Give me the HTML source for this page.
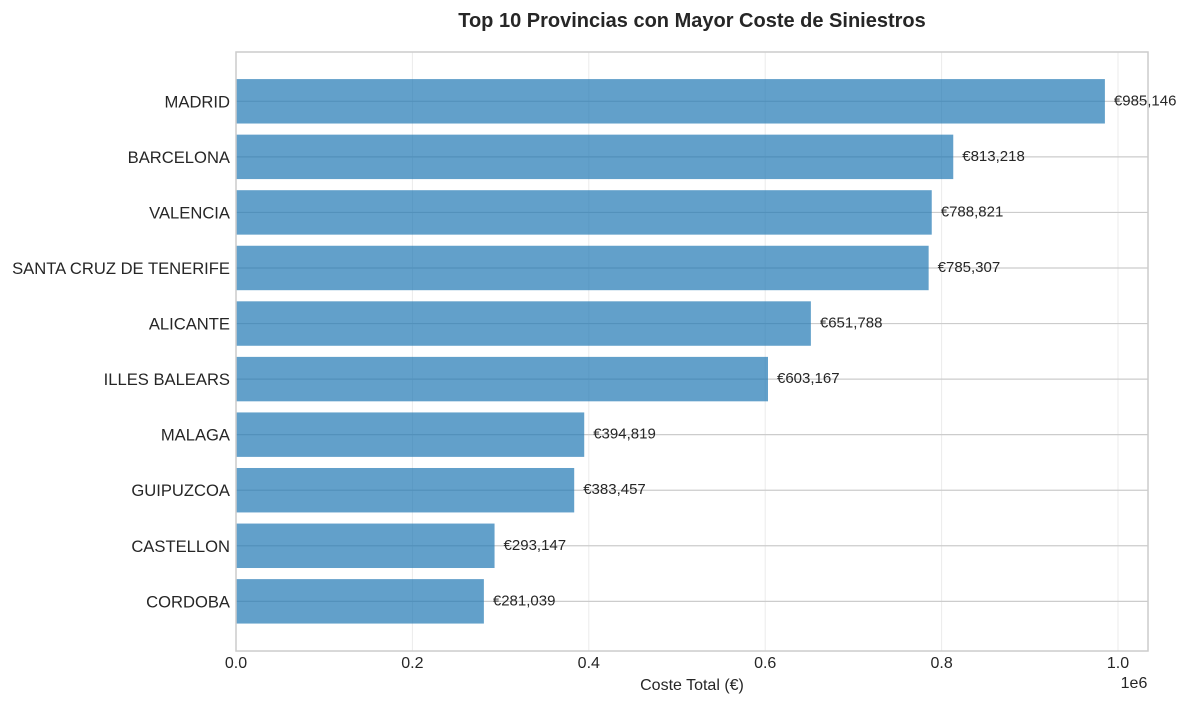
<!DOCTYPE html>
<html><head><meta charset="utf-8"><style>
html,body{margin:0;padding:0;background:#fff;}
svg{display:block;font-family:"Liberation Sans",sans-serif;}
</style></head><body>
<svg id="chart" width="1188" height="705" viewBox="0 0 1188 705">
<text x="692" y="27" text-anchor="middle" font-size="20" font-weight="bold" fill="#262626">Top 10 Provincias con Mayor Coste de Siniestros</text>
<g id="vgrid"></g>
<g id="hgrid"></g>
<g id="bars"></g>
<g id="labels"></g>
<rect x="236" y="52" width="912" height="599" fill="none" stroke="#cccccc" stroke-width="1.5"/>
<g id="xticks"></g>
<g id="yticks"></g>
<text x="692" y="690" text-anchor="middle" font-size="16" fill="#262626">Coste Total (€)</text>
<text x="1134" y="688" text-anchor="middle" font-size="16" fill="#262626">1e6</text>
</svg>
<script>
const categories = ["MADRID","BARCELONA","VALENCIA","SANTA CRUZ DE TENERIFE","ALICANTE","ILLES BALEARS","MALAGA","GUIPUZCOA","CASTELLON","CORDOBA"];
const values = [985146,813218,788821,785307,651788,603167,394819,383457,293147,281039];
const xTicks = [0,0.2,0.4,0.6,0.8,1.0];
const xTickLabels = ["0.0","0.2","0.4","0.6","0.8","1.0"];

const NS="http://www.w3.org/2000/svg";
const X0=236, XS=882;
const x = v => X0 + v/1e6*XS;
const step = 55.56, firstY = 101.3;
const y = i => firstY + i*step;
const bh = step*0.8;
function mk(tag, attrs, parent){const e=document.createElementNS(NS,tag);for(const k in attrs)e.setAttribute(k,attrs[k]);document.getElementById(parent).appendChild(e);return e;}

xTicks.forEach((t,i)=>{
  const l=mk('line',{x1:x(t*1e6),x2:x(t*1e6),y1:52,y2:651,stroke:'#ebebeb','stroke-width':1},'vgrid');
  
  
  const tx=mk('text',{x:x(t*1e6),y:668,'text-anchor':'middle','font-size':16,fill:'#262626'},'xticks');
  tx.textContent=xTickLabels[i];
  
  
});
categories.forEach((c,i)=>{
  const g=mk('line',{x1:236,x2:1148,y1:y(i),y2:y(i),stroke:'#cccccc','stroke-width':1.2},'hgrid');
  
  
  const r=mk('rect',{x:X0,y:y(i)-bh/2,width:x(values[i])-X0,height:bh,fill:'#1f77b4','fill-opacity':0.7},'bars');
  
  
  const t=mk('text',{x:x(values[i])+9,y:y(i)+4,'font-size':15,fill:'#262626'},'labels');
  t.textContent='€'+values[i].toLocaleString('en-US');
  
  
  const yl=mk('text',{x:230,y:y(i)+6,'text-anchor':'end','font-size':16.6,fill:'#262626'},'yticks');
  yl.textContent=c;
  
  
});
</script>
</body></html>
